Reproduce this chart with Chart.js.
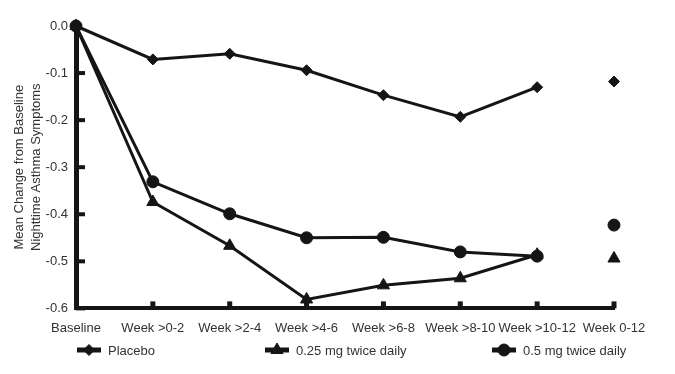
<!DOCTYPE html>
<html lang="en">
<head>
    <meta charset="UTF-8">
    <title>Nighttime Asthma Symptoms</title>
    <style>
        html, body {
            margin: 0;
            padding: 0;
            background: #fff;
        }
        #wrap {
            width: 675px;
            height: 374px;
        }
    </style>
</head>
<body>
    <div id="wrap"><canvas id="chart" width="675" height="374"></canvas></div>

    <script src="https://cdn.jsdelivr.net/npm/chart.js@4"></script>
    <script>
        // Data
        const categories = ["Baseline", "Week >0-2", "Week >2-4", "Week >4-6", "Week >6-8", "Week >8-10", "Week >10-12", "Week 0-12"];
        const placebo = [0, -0.071, -0.059, -0.094, -0.147, -0.193, -0.130, -0.118];
        const dose025 = [0, -0.374, -0.467, -0.581, -0.551, -0.536, -0.486, -0.494];
        const dose05 = [0, -0.331, -0.399, -0.450, -0.449, -0.480, -0.489, -0.423];
        const seriesLabels = ["Placebo", "0.25 mg twice daily", "0.5 mg twice daily"];
        const yTitle = ["Mean Change from Baseline", "Nighttime Asthma Symptoms"];

        const ink = "#151515";
        const textColor = "#333";
        const lastIdx = categories.length - 1;

        Chart.defaults.font.family = "'Liberation Sans', Arial, sans-serif";
        Chart.defaults.font.size = 13;
        Chart.defaults.color = textColor;

        function series(label, values, style, radius) {
            return {
                label: label,
                data: values,
                borderColor: ink,
                backgroundColor: ink,
                borderWidth: 3,
                pointStyle: style,
                pointRadius: radius,
                pointBackgroundColor: ink,
                pointBorderColor: ink,
                pointBorderWidth: 1,
                clip: false,
                // the overall (Week 0-12) value stands alone
                segment: {
                    borderColor: ctx => ctx.p1DataIndex === lastIdx ? "transparent" : ink
                }
            };
        }

        // small tick marks pointing into the plot
        const innerTicks = {
            id: "innerTicks",
            beforeDatasetsDraw(chart) {
                const { ctx, chartArea, scales: { x, y } } = chart;
                ctx.save();
                ctx.fillStyle = ink;
                y.ticks.forEach(t => {
                    if (t.value === 0) return;
                    const py = y.getPixelForValue(t.value);
                    ctx.fillRect(chartArea.left, py - 2, 9, 4);
                });
                x.ticks.forEach((t, i) => {
                    if (i === 0) return;
                    const px = x.getPixelForTick(i);
                    ctx.fillRect(px - 2.5, chartArea.bottom - 7, 5, 7);
                });
                ctx.restore();
            }
        };

        // legend: line sample with marker, laid out like the original
        const lineLegend = {
            id: "lineLegend",
            afterDraw(chart) {
                const ctx = chart.ctx;
                const starts = [77, 265, 492];
                const yMid = 350;
                ctx.save();
                chart.data.datasets.forEach((ds, i) => {
                    const x0 = starts[i];
                    ctx.strokeStyle = ink;
                    ctx.lineWidth = 5;
                    ctx.beginPath();
                    ctx.moveTo(x0, yMid);
                    ctx.lineTo(x0 + 24, yMid);
                    ctx.stroke();
                    ctx.fillStyle = ink;
                    ctx.strokeStyle = ink;
                    ctx.lineWidth = 1;
                    Chart.helpers.drawPoint(ctx, {
                        pointStyle: ds.pointStyle,
                        radius: ds.pointRadius,
                        rotation: 0,
                        borderWidth: 1
                    }, x0 + 12, yMid);
                    ctx.fillStyle = textColor;
                    ctx.font = "13px 'Liberation Sans', Arial, sans-serif";
                    ctx.textBaseline = "middle";
                    ctx.textAlign = "left";
                    ctx.fillText(ds.label, x0 + 31, yMid + 1);
                });
                ctx.restore();
            }
        };

        new Chart(document.getElementById("chart"), {
            type: "line",
            data: {
                labels: categories,
                datasets: [
                    series(seriesLabels[0], placebo, "rectRot", 5.5),
                    series(seriesLabels[1], dose025, "triangle", 7),
                    series(seriesLabels[2], dose05, "circle", 6)
                ]
            },
            options: {
                responsive: false,
                animation: false,
                layout: {
                    padding: { left: 0, right: 61, top: 26, bottom: 26 }
                },
                plugins: {
                    legend: { display: false },
                    tooltip: { enabled: false }
                },
                scales: {
                    x: {
                        offset: false,
                        grid: { display: false, drawTicks: false },
                        border: { display: true, color: ink, width: 4 },
                        ticks: {
                            color: textColor,
                            padding: 12,
                            maxRotation: 0,
                            autoSkip: false
                        }
                    },
                    y: {
                        min: -0.6,
                        max: 0,
                        grid: { display: false, drawTicks: false },
                        border: { display: true, color: ink, width: 5 },
                        ticks: {
                            stepSize: 0.1,
                            color: textColor,
                            padding: 8,
                            callback: v => v.toFixed(1)
                        },
                        title: {
                            display: true,
                            text: yTitle,
                            color: textColor,
                            font: { size: 13, lineHeight: 1.3 },
                            padding: { top: 11, bottom: 0 }
                        },
                        afterFit: scale => { scale.width = 76; }
                    }
                }
            },
            plugins: [innerTicks, lineLegend]
        });
    </script>
</body>
</html>
